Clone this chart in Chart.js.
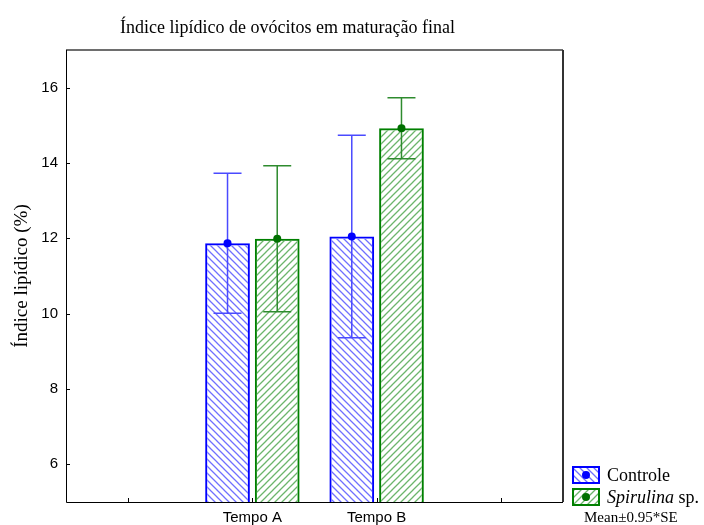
<!DOCTYPE html>
<html>
<head>
<meta charset="utf-8">
<script src="https://cdn.jsdelivr.net/npm/chart.js@4.4.1/dist/chart.umd.min.js"></script>
<style>
  html, body { margin: 0; padding: 0; background: #fff; }
  #wrap { width: 704px; height: 525px; }
</style>
</head>
<body>
<div id="wrap"><canvas id="chart-bars" width="704" height="525"></canvas></div>
<script>
// dados
const categorias = ['', 'Tempo A', 'Tempo B', ''];
const controleMedia = [null, 11.87, 12.05, null];
const controleErro = [null, 1.86, 2.69, null];
const spirulinaMedia = [null, 11.99, 14.92, null];
const spirulinaErro = [null, 1.94, 0.81, null];
const yTicks = [6, 8, 10, 12, 14, 16];

const serif = '"Liberation Serif", "Times New Roman", serif';

// padrao de hachura
function hachura(cor, invertido) {
    const c = document.createElement('canvas');
    c.width = 7; c.height = 7;
    const g = c.getContext('2d');
    g.strokeStyle = cor;
    g.lineWidth = 1.3;
    g.beginPath();
    if (invertido) {
        g.moveTo(-1, -1); g.lineTo(8, 8);
        g.moveTo(-8, -1); g.lineTo(1, 8);
        g.moveTo(6, -1); g.lineTo(15, 8);
    } else {
        g.moveTo(-1, 8); g.lineTo(8, -1);
        g.moveTo(-8, 8); g.lineTo(1, -1);
        g.moveTo(6, 8); g.lineTo(15, -1);
    }
    g.stroke();
    return g.createPattern(c, 'repeat');
}

const erros = [controleErro, spirulinaErro];
const corErro = ['#4a4aff', '#2e8b2e'];
const corPonto = ['#0000ff', '#007000'];

// barras de erro, moldura e legenda
const extras = {
    id: 'extras',
    afterDatasetsDraw(chart) {
        const ctx = chart.ctx;
        const y = chart.scales.y;
        chart.data.datasets.forEach((ds, i) => {
            const meta = chart.getDatasetMeta(i);
            meta.data.forEach((bar, j) => {
                const m = ds.data[j];
                if (m === null) return;
                const e = erros[i][j];
                const yt = y.getPixelForValue(m + e);
                const yb = y.getPixelForValue(m - e);
                const ym = y.getPixelForValue(m);
                ctx.save();
                ctx.strokeStyle = corErro[i];
                ctx.lineWidth = 1.5;
                ctx.beginPath();
                ctx.moveTo(bar.x, yt); ctx.lineTo(bar.x, yb);
                ctx.moveTo(bar.x - 14, yt); ctx.lineTo(bar.x + 14, yt);
                ctx.moveTo(bar.x - 14, yb); ctx.lineTo(bar.x + 14, yb);
                ctx.stroke();
                ctx.fillStyle = corPonto[i];
                ctx.beginPath();
                ctx.arc(bar.x, ym, 4, 0, Math.PI * 2);
                ctx.fill();
                ctx.restore();
            });
        });
    },
    afterDraw(chart) {
        const ctx = chart.ctx;
        const a = chart.chartArea;
        const x = chart.scales.x;
        const y = chart.scales.y;
        ctx.save();
        // moldura
        ctx.strokeStyle = '#6e6e6e';
        ctx.lineWidth = 2;
        ctx.beginPath();
        ctx.moveTo(a.left, a.top); ctx.lineTo(a.right, a.top);
        ctx.stroke();
        ctx.strokeStyle = '#333';
        ctx.beginPath();
        ctx.moveTo(a.right, a.top); ctx.lineTo(a.right, a.bottom);
        ctx.stroke();
        ctx.strokeStyle = '#000';
        ctx.lineWidth = 1;
        ctx.beginPath();
        ctx.moveTo(a.left + 0.5, a.top); ctx.lineTo(a.left + 0.5, a.bottom + 0.5);
        ctx.lineTo(a.right, a.bottom + 0.5);
        // marcas
        yTicks.forEach(v => {
            const py = Math.round(y.getPixelForValue(v)) + 0.5;
            ctx.moveTo(a.left, py); ctx.lineTo(a.left + 4, py);
        });
        categorias.forEach((c, i) => {
            const px = Math.round(x.getPixelForValue(i)) + 0.5;
            ctx.moveTo(px, a.bottom); ctx.lineTo(px, a.bottom - 4);
        });
        ctx.stroke();

        // titulo
        ctx.fillStyle = '#000';
        ctx.font = '18px ' + serif;
        ctx.textBaseline = 'alphabetic';
        ctx.textAlign = 'left';
        ctx.fillText('Índice lipídico de ovócitos em maturação final', 120, 33);

        // legenda
        const itens = [
            { texto: 'Controle', cor: '#0000ff', hatch: chart.data.datasets[0].backgroundColor, ponto: corPonto[0], y: 467 },
            { texto: 'Spirulina', extra: ' sp.', cor: '#008000', hatch: chart.data.datasets[1].backgroundColor, ponto: corPonto[1], y: 489 }
        ];
        itens.forEach(it => {
            ctx.fillStyle = '#fff';
            ctx.fillRect(573, it.y, 26, 16);
            ctx.fillStyle = it.hatch;
            ctx.fillRect(573, it.y, 26, 16);
            ctx.strokeStyle = it.cor;
            ctx.lineWidth = 2;
            ctx.strokeRect(573, it.y, 26, 16);
            ctx.fillStyle = it.ponto;
            ctx.beginPath();
            ctx.arc(586, it.y + 8, 4, 0, Math.PI * 2);
            ctx.fill();
            ctx.fillStyle = '#000';
            if (it.extra) {
                ctx.font = 'italic 18px ' + serif;
                ctx.fillText(it.texto, 607, it.y + 14);
                const w = ctx.measureText(it.texto).width;
                ctx.font = '18px ' + serif;
                ctx.fillText(it.extra, 607 + w, it.y + 14);
            } else {
                ctx.font = '18px ' + serif;
                ctx.fillText(it.texto, 607, it.y + 14);
            }
        });
        ctx.font = '15px ' + serif;
        ctx.fillText('Mean±0.95*SE', 584, 522);
        ctx.restore();
    }
};

function createChart(id) {
    const ctx = document.getElementById(id);
    const config = {
        type: 'bar',
        data: {
            labels: categorias,
            datasets: [{
                label: 'Controle',
                data: controleMedia,
                backgroundColor: hachura('#7070ff', true),
                borderColor: '#0000ff',
                borderWidth: 2,
                borderSkipped: false
            }, {
                label: 'Spirulina sp.',
                data: spirulinaMedia,
                backgroundColor: hachura('#6cb56c', false),
                borderColor: '#008000',
                borderWidth: 2,
                borderSkipped: false
            }]
        },
        options: {
            responsive: false,
            animation: false,
            events: [],
            layout: { padding: { top: 50, right: 141, left: 0, bottom: 0 } },
            plugins: {
                legend: { display: false },
                title: { display: false },
                tooltip: { enabled: false }
            },
            scales: {
                x: {
                    grid: { display: false, drawTicks: false },
                    border: { display: false },
                    ticks: {
                        color: '#000',
                        padding: 7,
                        maxRotation: 0,
                        font: { family: '"Liberation Sans", Arial, sans-serif', size: 15 }
                    },
                    afterFit: s => { s.height = 23; }
                },
                y: {
                    min: 5,
                    max: 17,
                    grid: { display: false, drawTicks: false },
                    border: { display: false },
                    ticks: {
                        color: '#000',
                        padding: 8,
                        font: { family: '"Liberation Sans", Arial, sans-serif', size: 15 }
                    },
                    afterBuildTicks: s => { s.ticks = yTicks.map(v => ({ value: v })); },
                    title: {
                        display: true,
                        text: 'Índice lipídico (%)',
                        color: '#000',
                        padding: { top: 11, bottom: 0 },
                        font: { family: serif, size: 19 }
                    },
                    afterFit: s => { s.width = 66; }
                }
            }
        },
        plugins: [extras]
    };
    new Chart(ctx, config);
}

createChart('chart-bars');
</script>
</body>
</html>
